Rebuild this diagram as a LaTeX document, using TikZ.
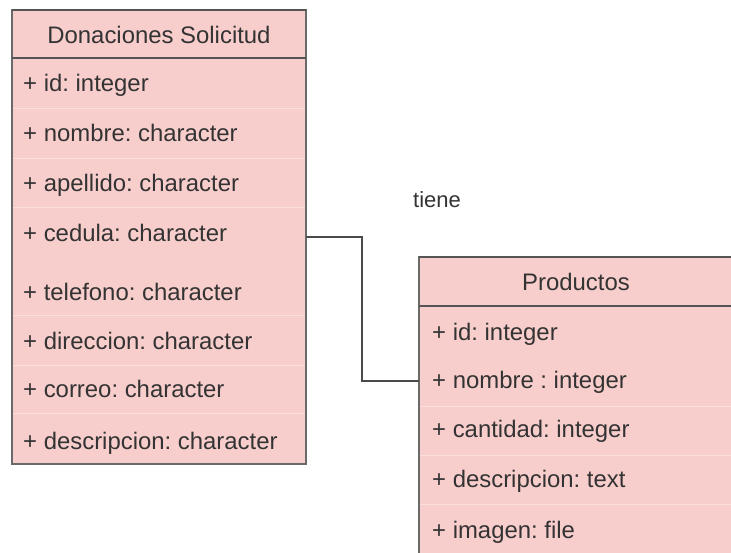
\documentclass[tikz,border=0pt]{standalone}
\usepackage{fontspec}
\setmainfont{Liberation Sans}
\frenchspacing
\definecolor{fillc}{HTML}{F8CECC}
\definecolor{sepc}{HTML}{FBDFDE}
\definecolor{edgec}{HTML}{6A6A6A}
\definecolor{headc}{HTML}{555555}
\definecolor{txtc}{HTML}{333333}
\definecolor{linkc}{HTML}{4A4A4A}
\begin{document}
\begin{tikzpicture}[x=1pt,y=-1pt,
  font=\fontsize{23.9}{28}\selectfont,
  bodyfill/.style={fill=fillc},
  sepline/.style={draw=sepc, line width=1pt},
  tblborder/.style={draw=edgec, line width=1.4pt},
  headline/.style={draw=headc, line width=1.6pt},
  attr/.style={anchor=base west, inner sep=0pt, text=txtc},
  ttl/.style={anchor=base, inner sep=0pt, text=txtc},
  link/.style={draw=linkc, line width=2pt}]
\useasboundingbox (0,0) rectangle (731,552);
\clip (0,0) rectangle (731,552);
% ---------- left table: Donaciones Solicitud ----------
\path[bodyfill] (12,10) rectangle (306,464);
\foreach \yy in {108,158,207,315,365,413} \draw[sepline] (13,\yy) -- (305,\yy);
\draw[tblborder] (12,10) rectangle (306,464);
\draw[headline] (12,10) -- (306,10);
\draw[headline] (12,58) -- (306,58);
\node[ttl] (dsT) at (159,43) {Donaciones Solicitud};
\node[attr] (dsId)  at (23,91)  {+ id: integer};
\node[attr] (dsNom) at (23,141) {+ nombre: character};
\node[attr] (dsApe) at (23,191) {+ apellido: character};
\node[attr] (dsCed) at (23,241) {+ cedula: character};
\node[attr] (dsTel) at (23,300) {+ telefono: character};
\node[attr] (dsDir) at (23,349) {+ direccion: character};
\node[attr] (dsCor) at (23,397) {+ correo: character};
\node[attr] (dsDes) at (23,449) {+ descripcion: character};
\coordinate (dsCedR) at (306,237);
% ---------- right table: Productos ----------
\path[bodyfill] (419,257) rectangle (733,560);
\foreach \yy in {406,455,504} \draw[sepline] (420,\yy) -- (733,\yy);
\draw[tblborder] (419,257) rectangle (733,560);
\draw[headline] (419,257) -- (733,257);
\draw[headline] (419,306) -- (733,306);
\node[ttl] (prT) at (576,290) {Productos};
\node[attr] (prId)  at (432,340) {+ id: integer};
\node[attr] (prNom) at (432,388) {+ nombre : integer};
\node[attr] (prCan) at (432,437) {+ cantidad: integer};
\node[attr] (prDes) at (432,487) {+ descripcion: text};
\node[attr] (prImg) at (432,538) {+ imagen: file};
\coordinate (prNomL) at (419,381);
% ---------- connector ----------
\draw[link] (dsCedR) -- (362,237) |- (prNomL);
\node[attr, font=\fontsize{22}{26}\selectfont] (tiene) at (413,207) {tiene};
\end{tikzpicture}
\end{document}
